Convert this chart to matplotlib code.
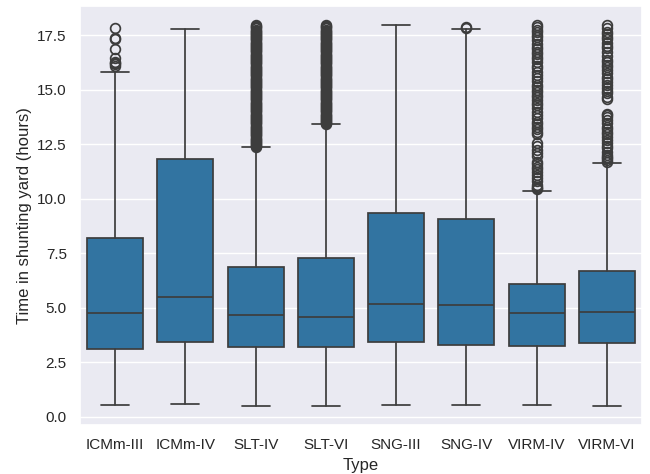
import matplotlib
matplotlib.use("Agg")
import matplotlib.pyplot as plt
import seaborn as sns

# summary statistics
types = ["ICMm-III", "ICMm-IV", "SLT-IV", "SLT-VI", "SNG-III", "SNG-IV", "VIRM-IV", "VIRM-VI"]
whislo = [0.54, 0.60, 0.49, 0.49, 0.54, 0.54, 0.54, 0.49]
q1 = [3.09, 3.41, 3.20, 3.20, 3.41, 3.29, 3.24, 3.37]
med = [4.77, 5.50, 4.66, 4.59, 5.17, 5.12, 4.77, 4.81]
q3 = [8.19, 11.82, 6.88, 7.26, 9.33, 9.06, 6.10, 6.67]
whishi = [15.80, 17.76, 12.36, 13.41, 17.96, 17.78, 10.36, 11.64]

fliers_icmm3 = [16.10, 16.16, 16.22, 16.28, 16.43, 16.84, 17.31, 17.37, 17.81]
fliers_icmm4 = []
fliers_slt4 = [12.38, 12.42, 12.46, 12.5, 12.55, 12.6, 12.65, 12.7, 12.75, 12.8, 12.85,
               12.9, 12.95, 13.0, 13.05, 13.1, 13.15, 13.2, 13.25, 13.3, 13.35, 13.4,
               13.45, 13.5, 13.55, 13.6, 13.65, 13.7, 13.75, 13.8, 13.85, 13.9, 13.95,
               14.0, 14.05, 14.1, 14.15, 14.2, 14.25, 14.3, 14.35, 14.4, 14.45, 14.5,
               14.55, 14.6, 14.65, 14.7, 14.75, 14.8, 14.85, 14.9, 14.95, 15.0, 15.05,
               15.1, 15.15, 15.2, 15.25, 15.3, 15.35, 15.4, 15.45, 15.5, 15.55, 15.6,
               15.65, 15.7, 15.75, 15.8, 15.85, 15.9, 15.95, 16.0, 16.05, 16.1, 16.15,
               16.2, 16.25, 16.3, 16.35, 16.4, 16.45, 16.5, 16.55, 16.6, 16.65, 16.7,
               16.75, 16.8, 16.85, 16.9, 16.95, 17.0, 17.05, 17.1, 17.15, 17.2, 17.25,
               17.3, 17.35, 17.4, 17.45, 17.5, 17.55, 17.6, 17.65, 17.7, 17.75, 17.8,
               17.85, 17.9, 17.96]
fliers_slt6 = [13.43, 13.47, 13.5, 13.55, 13.6, 13.65, 13.7, 13.75, 13.8, 13.85, 13.9,
               13.95, 14.0, 14.05, 14.1, 14.15, 14.2, 14.25, 14.3, 14.35, 14.4, 14.45,
               14.5, 14.55, 14.6, 14.65, 14.7, 14.75, 14.8, 14.85, 14.9, 14.95, 15.0,
               15.05, 15.1, 15.15, 15.2, 15.25, 15.3, 15.35, 15.4, 15.45, 15.5, 15.55,
               15.6, 15.65, 15.7, 15.75, 15.8, 15.85, 15.9, 15.95, 16.0, 16.05, 16.1,
               16.15, 16.2, 16.25, 16.3, 16.35, 16.4, 16.45, 16.5, 16.55, 16.6, 16.65,
               16.7, 16.75, 16.8, 16.85, 16.9, 16.95, 17.0, 17.05, 17.1, 17.15, 17.2,
               17.25, 17.3, 17.35, 17.4, 17.45, 17.5, 17.55, 17.6, 17.65, 17.7, 17.75,
               17.8, 17.85, 17.9, 17.96]
fliers_sng3 = []
fliers_sng4 = [17.84, 17.88]
fliers_virm4 = [10.42, 10.48, 10.55, 10.62, 10.8, 10.93, 11.1, 11.23, 11.35, 11.46,
                11.6, 11.69, 11.95, 12.08, 12.23, 12.4, 12.54, 12.95, 13.07, 13.2, 13.30,
                13.42, 13.53, 13.7, 13.83, 13.99, 14.15, 14.29, 14.4, 14.52, 14.65, 14.75,
                14.88, 14.98, 15.1, 15.21, 15.4, 15.51, 15.67, 15.8, 15.97, 16.1, 16.28,
                16.4, 16.51, 16.63, 16.74, 16.85, 16.97, 17.1, 17.27, 17.4, 17.50, 17.62,
                17.73, 17.85, 17.96]
fliers_virm6 = [11.70, 11.78, 11.85, 11.92, 12.00, 12.15, 12.31, 12.42, 12.54, 12.7,
                12.84, 12.95, 13.07, 13.2, 13.30, 13.45, 13.60, 13.72, 13.83, 13.9,
                14.55, 14.65, 14.83, 14.95, 15.05, 15.2, 15.36, 15.48, 15.59, 15.75, 15.90,
                16.02, 16.13, 16.25, 16.36, 16.55, 16.74, 16.9, 17.0, 17.12, 17.3, 17.42,
                17.55, 17.65, 17.8, 17.96]
fliers = [fliers_icmm3, fliers_icmm4, fliers_slt4, fliers_slt6,
          fliers_sng3, fliers_sng4, fliers_virm4, fliers_virm6]

sns.set_theme(style="darkgrid")
plt.rcParams["font.family"] = ["Liberation Sans", "DejaVu Sans"]

stats = []
for i, t in enumerate(types):
    stats.append({
        "label": t, "whislo": whislo[i], "q1": q1[i], "med": med[i],
        "q3": q3[i], "whishi": whishi[i], "fliers": fliers[i],
    })

line_col = "#3d3d3d"
box_col = "#3274a1"
lw = 1.25

fig = plt.figure(figsize=(6.5, 4.74), dpi=100)
ax = fig.add_axes([80 / 650, 49 / 474, 562 / 650, 419 / 474])
ax.bxp(stats, positions=range(len(types)), widths=0.8, capwidths=0.4,
       patch_artist=True, showfliers=True,
       boxprops=dict(facecolor=box_col, edgecolor=line_col, linewidth=lw),
       medianprops=dict(color=line_col, linewidth=lw),
       whiskerprops=dict(color=line_col, linewidth=lw),
       capprops=dict(color=line_col, linewidth=lw),
       flierprops=dict(marker="o", markersize=7, markerfacecolor="none",
                       markeredgecolor=line_col, markeredgewidth=lw))

ax.set_xlim(-0.5, len(types) - 0.5)
ax.set_ylim(-0.38, 18.83)
ax.set_yticks([0, 2.5, 5, 7.5, 10, 12.5, 15, 17.5])
ax.set_xticks(range(len(types)))
ax.set_xticklabels(types)
ax.xaxis.grid(False)
ax.set_xlabel("Type")
ax.set_ylabel("Time in shunting yard (hours)")

fig.savefig("out.png", dpi=100)
